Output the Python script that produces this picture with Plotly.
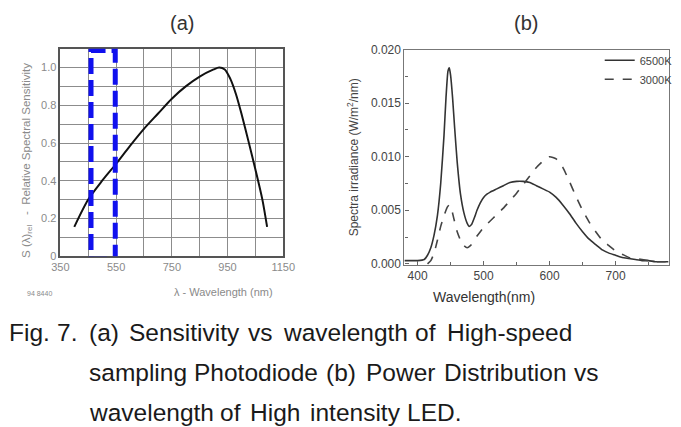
import plotly.graph_objects as go

W, H = 681, 427

# ---------------- Data: panel (a) photodiode sensitivity ----------------
sens_wl = [400, 450, 500, 550, 600, 650, 700, 750, 800, 850, 900, 920, 940, 960, 980, 1000, 1025, 1050, 1075, 1092]
sens_val = [0.155, 0.30, 0.40, 0.49, 0.585, 0.675, 0.755, 0.835, 0.90, 0.952, 0.99, 1.0, 0.99, 0.94, 0.86, 0.755, 0.61, 0.46, 0.30, 0.155]
a_xticks = [350, 450, 550, 650, 750, 850, 950, 1050, 1150]
a_xlabels = ["350", "", "550", "", "750", "", "950", "", "1150"]
a_yticks = [0, 0.1, 0.2, 0.3, 0.4, 0.5, 0.6, 0.7, 0.8, 0.9, 1.0, 1.1]
a_ylabels = ["0", "", "0.2", "", "0.4", "", "0.6", "", "0.8", "", "1.0", ""]
band_nm = [460, 547]          # highlighted band (blue dashed box)

# ---------------- Data: panel (b) LED spectra ----------------
wl_6500 = [380, 390, 400, 410, 415, 420, 425, 430, 435, 440, 443, 446, 448, 450, 453, 456, 460, 465, 470, 475, 478,
           482, 486, 490, 495, 500, 505, 510, 520, 530, 540, 550, 560, 570, 580, 590, 600, 610, 620, 630, 640, 650,
           660, 670, 680, 690, 700, 710, 720, 730, 740, 750, 760, 770, 780]
irr_6500 = [0.0003, 0.0003, 0.0003, 0.0004, 0.0008, 0.0015, 0.0027, 0.0045, 0.0075, 0.0120, 0.0155, 0.0180, 0.0183,
            0.0176, 0.0155, 0.0128, 0.0095, 0.0065, 0.0048, 0.0038, 0.0035, 0.0037, 0.0043, 0.0050, 0.0057, 0.0062,
            0.0065, 0.0067, 0.0070, 0.0073, 0.0076, 0.0077, 0.0077, 0.0076, 0.0073, 0.0070, 0.0067, 0.0062, 0.0055,
            0.0047, 0.0038, 0.0030, 0.0023, 0.0018, 0.0013, 0.0010, 0.0008, 0.0006, 0.0005, 0.0004, 0.0003, 0.0003,
            0.0002, 0.0002, 0.0002]
wl_3000 = [415, 420, 425, 430, 435, 440, 445, 448, 451, 455, 460, 465, 470, 475, 480, 485, 490, 495, 500, 510, 520,
           530, 540, 550, 560, 570, 580, 590, 600, 610, 620, 630, 640, 650, 660, 670, 680, 690, 700, 710, 720, 730,
           740, 750, 760, 770, 780]
irr_3000 = [0.0000, 0.0003, 0.0010, 0.0022, 0.0035, 0.0045, 0.0053, 0.0055, 0.0052, 0.0042, 0.0030, 0.0022, 0.0017,
            0.0015, 0.0017, 0.0021, 0.0026, 0.0030, 0.0034, 0.0040, 0.0046, 0.0052, 0.0059, 0.0066, 0.0074, 0.0082,
            0.0090, 0.0096, 0.0100, 0.0098, 0.0090, 0.0077, 0.0063, 0.0050, 0.0039, 0.0030, 0.0022, 0.0017, 0.0012,
            0.0009, 0.0006, 0.0005, 0.0004, 0.0003, 0.0002, 0.0002, 0.0002]
b_xticks = [400, 500, 600, 700]
b_yticks = [0.000, 0.005, 0.010, 0.015, 0.020]

caption_lines = [
    ["Fig.", "7.", "(a)", "Sensitivity", "vs", "wavelength", "of", "High-speed"],
    ["sampling", "Photodiode", "(b)", "Power", "Distribution", "vs"],
    ["wavelength", "of", "High", "intensity", "LED."],
]
caption_x = [
    [-2, 47, 80, 122, 245, 281, 417, 450],
    [80, 189, 325, 366, 447, 581],
    [80, 216, 247, 308, 409],
]
caption_y = [336, 377, 418]
CAP_FONT = "Liberation Sans, Arial, sans-serif"


def px(x):
    return x / W


def py(y):
    return 1 - y / H


fig = go.Figure()

fig.add_trace(go.Scatter(x=sens_wl, y=sens_val, mode="lines", line=dict(color="#111", width=2, shape="spline", smoothing=0.8),
                         xaxis="x", yaxis="y", showlegend=False))
fig.add_trace(go.Scatter(x=wl_6500, y=irr_6500, mode="lines", name="6500K",
                         line=dict(color="#333", width=1.6, shape="spline", smoothing=0.5),
                         xaxis="x2", yaxis="y2"))
fig.add_trace(go.Scatter(x=wl_3000, y=irr_3000, mode="lines", name="3000K",
                         line=dict(color="#444", width=1.6, dash="dash", shape="spline", smoothing=0.5),
                         xaxis="x2", yaxis="y2"))

grey_a = "#8a8a8a"
fig.update_layout(
    width=W, height=H, margin=dict(l=0, r=0, t=0, b=0),
    paper_bgcolor="white", plot_bgcolor="white",
    font=dict(family="Liberation Sans, Arial, sans-serif"),
    xaxis=dict(domain=[px(53), px(283)], range=[350, 1150], tickvals=a_xticks, ticktext=a_xlabels,
               showgrid=True, gridcolor="#8c8c8c", gridwidth=1, zeroline=False,
               showline=True, linecolor="#555", linewidth=1.5, mirror=True, ticks="",
               tickfont=dict(size=11, color=grey_a), anchor="y"),
    yaxis=dict(domain=[py(257), py(43)], range=[0, 1.1], tickvals=a_yticks, ticktext=a_ylabels,
               showgrid=True, gridcolor="#8c8c8c", gridwidth=1, zeroline=False,
               showline=True, linecolor="#555", linewidth=1.5, mirror=True, ticks="",
               tickfont=dict(size=11, color=grey_a), anchor="x"),
    xaxis2=dict(domain=[px(408), 1.0], range=[380, 781], tickvals=b_xticks,
                showgrid=False, zeroline=False, showline=True, linecolor="#777", linewidth=1.2, mirror=True,
                ticks="inside", ticklen=4, tickcolor="#666",
                minor=dict(dtick=50, tick0=350, ticks="inside", ticklen=3, tickcolor="#666"),
                tickfont=dict(size=12, color="#444"), anchor="y2"),
    yaxis2=dict(domain=[py(266), py(44)], range=[-0.0001, 0.0200], tickvals=b_yticks, tickformat=".3f",
                showgrid=False, zeroline=False, showline=True, linecolor="#777", linewidth=1.2, mirror=True,
                ticks="inside", ticklen=4, tickcolor="#666",
                minor=dict(dtick=0.0025, ticks="inside", ticklen=3, tickcolor="#666"),
                tickfont=dict(size=12, color="#444"), anchor="x2"),
    legend=dict(x=px(690), y=py(40), xanchor="right", yanchor="top", bgcolor="rgba(0,0,0,0)",
                font=dict(size=11, color="#444"), itemwidth=30, tracegroupgap=0),
)

# highlighted band on panel (a)
fig.add_shape(type="rect", xref="x", yref="y", x0=band_nm[0], x1=band_nm[1], y0=-0.013, y1=1.09,
              line=dict(color="#1010ee", width=5, dash="16px,6px"), fillcolor="rgba(0,0,0,0)", layer="above")

ann = []
# panel titles
ann.append(dict(x=px(164), y=py(16), text="(a)", font=dict(size=20, color="#333")))
ann.append(dict(x=px(548), y=py(16), text="(b)", font=dict(size=20, color="#333")))
# axis titles panel (a)
ann.append(dict(x=px(9), y=py(158), text="S (λ)<sub>rel</sub>   -  Relative Spectral Sensitivity", textangle=-90,
                font=dict(size=11.5, color=grey_a)))
ann.append(dict(x=px(168), y=py(294), text="λ - Wavelength (nm)", font=dict(size=11, color=grey_a)))
ann.append(dict(x=px(17), y=py(295), text="94 8440", font=dict(size=7, color=grey_a)))
# axis titles panel (b)
ann.append(dict(x=px(355), y=py(155), text="Spectra irradiance (W/m<sup>2</sup>/nm)", textangle=-90,
                font=dict(size=12, color="#444")))
ann.append(dict(x=px(545), y=py(299), text="Wavelength(nm)", font=dict(size=14, color="#333")))
# caption
for words, xs, yc in zip(caption_lines, caption_x, caption_y):
    for w, x in zip(words, xs):
        ann.append(dict(x=px(x), y=py(yc), text=w, xanchor="left",
                        font=dict(size=24.5, color="#1a1a1a", family=CAP_FONT)))
for a in ann:
    a.setdefault("xref", "paper")
    a.setdefault("yref", "paper")
    a.setdefault("yanchor", "middle")
    a.setdefault("showarrow", False)
fig.update_layout(annotations=ann)

fig.write_html("out.html")
